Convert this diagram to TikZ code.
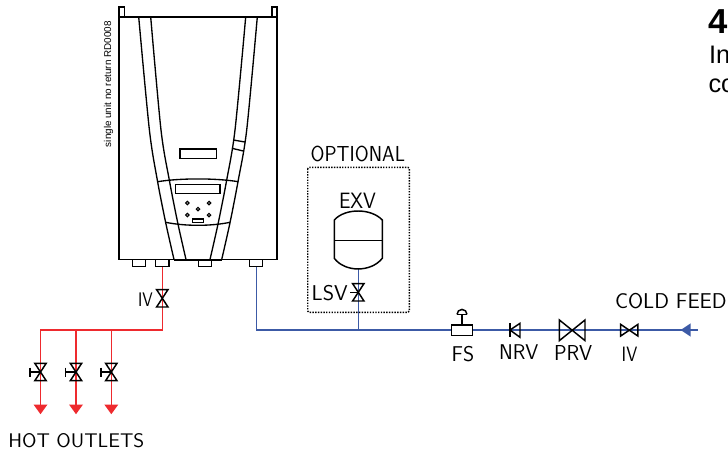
\documentclass[tikz,border=0pt]{standalone}
\usepackage{graphicx}
\usepackage{fontspec}
\setmainfont{Liberation Sans}
\definecolor{hotred}{HTML}{EE2A2E}
\definecolor{coldblue}{HTML}{3C5AA6}
\newcommand{\cadlab}[3]{\resizebox{#1\dimexpr0.75pt\relax}{#2\dimexpr0.75pt\relax}{\sffamily\fontsize{20}{20}\selectfont #3}}
\tikzset{
  outline/.style={draw=black,line width=1.1pt,line join=miter},
  thinline/.style={draw=black,line width=1pt},
  sym/.style={draw=black,line width=1.1pt,line join=miter},
  hotpipe/.style={draw=hotred,line width=1.15pt},
  coldpipe/.style={draw=coldblue,line width=1.15pt},
  cadtext/.style={inner sep=0pt,outer sep=0pt,anchor=south west,text=black},
  plain/.style={inner sep=0pt,outer sep=0pt},
  pics/bowv/.style={code={\draw[sym] (-5.7,-8.7) -- (5.7,-8.7) -- (-5.7,8.7) -- (5.7,8.7) -- cycle;}},
  pics/bowh/.style n args={2}{code={\draw[sym] (-#1,-#2) -- (-#1,#2) -- (#1,-#2) -- (#1,#2) -- cycle;}},
  pics/outletvalve/.style={code={
    \draw[sym] (-5.7,-8.7) -- (5.7,-8.7) -- (-5.7,8.7) -- (5.7,8.7) -- cycle;
    \draw[sym] (0,0) -- (-10.5,0) (-10.5,-4.5) -- (-10.5,4.5);}}
}
\begin{document}
\begin{tikzpicture}[x=.75pt,y=-.75pt]
\useasboundingbox (0,0) rectangle (728,457);
\fill[white] (0,0) rectangle (728,457);
\begin{scope}
\clip (0,0) rectangle (728,457);
% named points
\coordinate (hotport) at (162.3,266.7);
\coordinate (ivhot) at (162.3,298.3);
\coordinate (hottee) at (162.3,330);
\coordinate (h1) at (40.5,330);
\coordinate (h2) at (76,330);
\coordinate (h3) at (111.3,330);
\coordinate (o1) at (40.5,404.5);
\coordinate (o2) at (76,404.5);
\coordinate (o3) at (111.3,404.5);
\coordinate (v1) at (40.5,372);
\coordinate (v2) at (76,372);
\coordinate (v3) at (111.3,372);
\coordinate (coldport) at (256.3,266.7);
\coordinate (coldcorner) at (256.3,330);
\coordinate (coldend) at (697.7,330);
\coordinate (teeexv) at (358.3,330);
\coordinate (tankbot) at (358.3,269);
\coordinate (lsv) at (358.3,292.3);
% pipes
\draw[hotpipe] (hotport) -- (hottee) -- (h1) -- (o1);
\draw[hotpipe] (h2) -- (o2);
\draw[hotpipe] (h3) -- (o3);
\draw[coldpipe] (coldport) -- (coldcorner) -- (coldend);
\draw[coldpipe] (tankbot) -- (teeexv);
% outlet arrows
\foreach \o in {o1,o2,o3}{\fill[hotred] (\o)++(-7,0) -- ++(14,0) -- ++(-7,9.7) -- cycle;}
\fill[coldblue] (680.7,330) -- (690.7,323.3) -- (690.7,336.7) -- cycle;
% boiler casing
\draw[outline] (119,17) rectangle (276.8,259.5);
\draw[outline] (119,17) -- (119,7) -- (124.3,7) -- (124.3,17);
\draw[outline] (271.8,17) -- (271.8,7) -- (276.8,7) -- (276.8,17);
\draw[line width=1.5pt] (174,259.5) -- (221.7,259.5);
\draw[thinline] plot[smooth,tension=.5] coordinates {(138.7,17) (149.4,130) (157.3,180) (165.7,222.7) (174,259.5)};
\draw[thinline] plot[smooth,tension=.5] coordinates {(150.7,17) (161,130) (169.3,180) (177.7,222.7) (186,259.5)};
\draw[thinline] plot[smooth,tension=.5] coordinates {(245.7,17) (235,130) (226.7,180) (218.3,222.7) (210,259.5)};
\draw[thinline] plot[smooth,tension=.5] coordinates {(257.3,17) (246.7,130) (238.3,180) (230,222.7) (221.7,259.5)};
\draw[thinline] (233.3,140) -- (245,142);
\draw[thinline] (232,148.3) -- (243.3,151);
\draw[thinline] (180,149) rectangle (216.3,158.7);
\draw[thinline] (157.7,181.7) .. controls (180,178) and (216,178) .. (238.3,181.7);
\draw[thinline] (175.7,184.3) rectangle (220,193.3);
\draw[thinline] (165.7,222.3) .. controls (185,226.3) and (211,226.3) .. (230,222.3);
\foreach \p in {(187.3,203),(209,203),(198,209),(187.3,215),(209,215)}{\draw[black,line width=.85pt] \p circle (1.7);}
\draw[thinline] (192.7,219) rectangle (203.3,222.7);
% ports
\foreach \x in {132.3,155.7,198.3,249.3}{\draw[thinline] (\x,260) -- (\x,266.7) -- ++(13.4,0) -- ++(0,-6.7);}
% optional box
\draw[black,line width=1.05pt,densely dotted,rounded corners=1pt] (307.7,167.3) rectangle (409.3,312.3);
% tank
\draw[outline] (334.3,220) .. controls (345,208) and (371,208) .. (382.3,220) -- (382.3,258.3) .. controls (371,272.5) and (345,272.5) .. (334.3,258.3) -- cycle;
\draw[outline] (334.3,240.3) -- (382.3,240.3);
% valves
\pic at (ivhot) {bowv};
\pic at (v1) {outletvalve};
\pic at (v2) {outletvalve};
\pic at (v3) {outletvalve};
\pic at (lsv) {bowv};
\draw[sym] (lsv) -- (349.5,292.3);
% FS
\node[plain,draw=black,line width=1.1pt,fill=white,minimum width=16pt,minimum height=8pt] (fs) at (462,330.3) {};
\draw[sym] (fs.north) -- (462,314.4);
\draw[sym] (457,314.4) -- (467,314.4);
\draw[sym] (457,314.4) arc[start angle=180,end angle=0,radius=3.75pt];
% NRV
\draw[sym] (510,323.3) -- (510,337.3);
\draw[sym] (510,330) -- (520,323.3) -- (520,337.3) -- cycle;
% PRV, IV
\pic at (572.2,330.3) {bowh={12.8}{10.3}};
\pic at (629.3,330.2) {bowh={8.6}{5.8}};
% texts
\node[cadtext] (t1) at (138,306.7) {\cadlab{14.7}{13.6}{IV}};
\node[cadtext] (t2) at (8.3,447.7) {\cadlab{136}{14}{HOT OUTLETS}};
\node[cadtext] (t3) at (310.7,162) {\cadlab{94.3}{15.4}{OPTIONAL}};
\node[cadtext] (t4) at (339,208.3) {\cadlab{37}{15.4}{EXV}};
\node[cadtext] (t5) at (311.7,301.3) {\cadlab{36}{15.2}{LSV}};
\node[cadtext] (t6) at (451.7,362) {\cadlab{22.6}{15.2}{FS}};
\node[cadtext] (t7) at (499,359.8) {\cadlab{39.3}{14.8}{NRV}};
\node[cadtext] (t8) at (554,360.3) {\cadlab{38.3}{15}{PRV}};
\node[cadtext] (t9) at (621.7,361.3) {\cadlab{15.6}{14.4}{IV}};
\node[cadtext] (t10) at (615,308.6) {\cadlab{111.7}{15.2}{COLD FEED}};
\node[plain,anchor=base west,rotate=90] (side) at (111,147) {\fontsize{7.4pt}{8pt}\selectfont single unit no return RD0008};
\node[plain,anchor=base west] (h4) at (708,33) {\fontsize{26pt}{26pt}\selectfont\bfseries 4};
\node[plain,anchor=base west] (hIn) at (709,63.3) {\fontsize{19pt}{19pt}\selectfont In};
\node[plain,anchor=base west] (hco) at (708.5,92.5) {\fontsize{19pt}{19pt}\selectfont co};
\end{scope}
\end{tikzpicture}
\end{document}
